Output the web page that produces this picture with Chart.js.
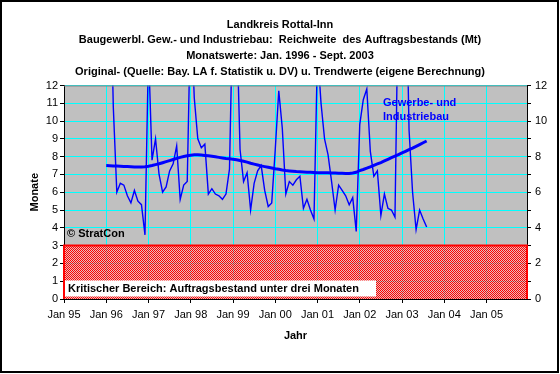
<!DOCTYPE html>
<html><head><meta charset="utf-8">
<script src="https://cdn.jsdelivr.net/npm/chart.js@4.4.1/dist/chart.umd.min.js"></script>
<style>html,body{margin:0;padding:0;background:#fff;}canvas{display:block;}</style>
</head><body>
<canvas id="c" width="560" height="374"></canvas>
<script>
// ---- data ----
const titleLines = [
  'Landkreis Rottal-Inn',
  'Baugewerbl. Gew.- und Industriebau:  Reichweite  des Auftragsbestands (Mt)',
  'Monatswerte: Jan. 1996 - Sept. 2003',
  'Original- (Quelle: Bay. LA f. Statistik u. DV) u. Trendwerte (eigene Berechnung)'
];
const yearLabels = ['Jan 95','Jan 96','Jan 97','Jan 98','Jan 99','Jan 00','Jan 01','Jan 02','Jan 03','Jan 04','Jan 05'];
const axisMonthsMax = 131.5;      // axis runs Jan 1995 .. end of 2005 (months)
const firstDataMonth = 12;        // Jan 1996, counted in months from Jan 1995
const seriesOriginalName = 'Gewerbe- und Industriebau';
const original = [
  16, 20, 10.8, 6.0, 6.5, 6.4, 5.8, 5.4, 6.1, 5.5, 5.3, 3.6,
  14, 7.8, 9.0, 7.0, 6.0, 6.3, 7.2, 7.6, 8.6, 5.6, 6.4, 6.6,
  16.5, 11.3, 9.0, 8.5, 8.7, 5.9, 6.2, 5.9, 5.8, 5.6, 5.9, 7.3,
  17, 16, 8.4, 6.6, 7.1, 5.0, 6.5, 7.2, 7.5, 6.1, 5.2, 5.4,
  8.4, 11.7, 9.6, 5.9, 6.6, 6.4, 6.7, 6.9, 5.1, 5.6, 5.0, 4.5,
  14, 11.0, 9.0, 8.1, 6.6, 5.0, 6.4, 6.1, 5.8, 5.3, 5.7, 3.8,
  9.8, 11.2, 11.8, 8.3, 6.9, 7.2, 4.7, 5.9, 5.1, 5.0, 4.6, 18,
  22, 20, 9.5, 6.0, 3.9, 5.0, 4.5, 4.05
];
const trend = [
  7.50, 7.49, 7.48, 7.47, 7.46, 7.45, 7.44, 7.43, 7.42, 7.42, 7.42, 7.43,
  7.46, 7.50, 7.55, 7.60, 7.66, 7.72, 7.78, 7.84, 7.90, 7.96, 8.01, 8.05,
  8.08, 8.10, 8.10, 8.09, 8.07, 8.05, 8.02, 7.99, 7.96, 7.93, 7.90, 7.88,
  7.86, 7.83, 7.78, 7.74, 7.69, 7.63, 7.58, 7.53, 7.48, 7.44, 7.40, 7.36,
  7.32, 7.29, 7.25, 7.22, 7.20, 7.18, 7.16, 7.15, 7.14, 7.13, 7.12, 7.11,
  7.10, 7.10, 7.09, 7.09, 7.08, 7.08, 7.07, 7.07, 7.06, 7.06, 7.08, 7.12,
  7.22, 7.28, 7.35, 7.43, 7.51, 7.59, 7.67, 7.76, 7.85, 7.94, 8.03, 8.12,
  8.21, 8.30, 8.39, 8.48, 8.58, 8.68, 8.78, 8.88
];
const criticalLevel = 3;
const criticalText = 'Kritischer Bereich: Auftragsbestand unter drei Monaten';
const copyrightText = '\u00A9 StratCon';

// ---- chart ----
Chart.defaults.font.family = "'Liberation Sans', Arial, sans-serif";
Chart.defaults.font.size = 11;
Chart.defaults.color = '#000';

const canvas = document.getElementById('c');
const pc = document.createElement('canvas'); pc.width = 2; pc.height = 2;
const pctx = pc.getContext('2d');
pctx.fillStyle = '#ff0000'; pctx.fillRect(0,0,1,1); pctx.fillRect(1,1,1,1);
pctx.fillStyle = 'rgba(255,190,190,0.6)'; pctx.fillRect(1,0,1,1); pctx.fillRect(0,1,1,1);
const redPattern = canvas.getContext('2d').createPattern(pc, 'repeat');

const toPoints = arr => arr.map((v, i) => ({x: firstDataMonth + i, y: v}));
const criticalPts = [
  {x: 0, y: 0}, {x: 0, y: criticalLevel},
  {x: axisMonthsMax, y: criticalLevel}, {x: axisMonthsMax, y: 0}
];

const decor = {
  id: 'decor',
  beforeDraw(chart) {
    const {ctx, chartArea: a} = chart;
    ctx.save();
    ctx.fillStyle = '#fff'; ctx.fillRect(0, 0, chart.width, chart.height);
    ctx.fillStyle = '#c0c0c0'; ctx.fillRect(a.left, a.top, a.right - a.left, a.bottom - a.top);
    ctx.restore();
  },
  afterDatasetsDraw(chart) {
    const {ctx, chartArea: a} = chart;
    ctx.save();
    ctx.strokeStyle = '#808080'; ctx.lineWidth = 1;
    ctx.beginPath(); ctx.moveTo(a.left, a.top + 0.5); ctx.lineTo(a.right, a.top + 0.5); ctx.stroke();
    ctx.font = "bold 11px 'Liberation Sans', Arial, sans-serif";
    ctx.textBaseline = 'middle'; ctx.textAlign = 'left';
    ctx.fillStyle = '#000';
    ctx.fillText(copyrightText, a.left + 3, a.top + 148);
    ctx.fillStyle = '#fff';
    ctx.fillRect(a.left + 1, a.top + 195, 311, 16);
    ctx.fillStyle = '#000';
    ctx.fillText(criticalText, a.left + 4, a.top + 203);
    ctx.fillStyle = '#0000ff';
    const nm = seriesOriginalName.split(' Industriebau');
    ctx.fillText(nm[0], a.left + 319, a.top + 17);
    ctx.fillText('Industriebau', a.left + 319, a.top + 31);
    ctx.restore();
  },
  afterDraw(chart) {
    const ctx = chart.ctx;
    ctx.save();
    ctx.strokeStyle = '#000'; ctx.lineWidth = 2;
    ctx.strokeRect(1, 1, chart.width - 3, chart.height - 3);
    ctx.restore();
  }
};

new Chart(canvas, {
  type: 'line',
  data: {
    datasets: [
      {label: 'Trend', data: toPoints(trend), borderColor: '#0000ff', borderWidth: 3,
       pointRadius: 0, fill: false, order: 0, clip: 0},
      {label: seriesOriginalName, data: toPoints(original), borderColor: '#0000ff', borderWidth: 1.4,
       pointRadius: 0, fill: false, order: 1, clip: 0},
      {label: 'Kritisch', data: criticalPts, borderColor: '#ff0000', borderWidth: 2,
       backgroundColor: redPattern, pointRadius: 0, fill: 'origin', order: 2, clip: false}
    ]
  },
  options: {
    responsive: false, animation: false, devicePixelRatio: 1,
    layout: {padding: 0},
    plugins: {
      legend: {display: false}, tooltip: {enabled: false},
      title: {display: true, text: titleLines, color: '#000',
        font: {size: 11, weight: 'bold', lineHeight: 1.42}, padding: {top: 17, bottom: 6}}
    },
    scales: {
      x: {
        type: 'linear', min: 0, max: axisMonthsMax,
        afterBuildTicks(s) { s.ticks = yearLabels.map((_, i) => ({value: i * 12})); },
        afterFit(s) { s.height = 75; },
        ticks: {stepSize: 12, autoSkip: false, maxRotation: 0, padding: 5, color: '#000',
          callback: v => yearLabels[Math.round(v / 12)]},
        grid: {color: '#00ffff', tickColor: '#000', tickLength: 4, lineWidth: 1},
        border: {display: true, color: '#000'},
        title: {display: true, text: 'Jahr', color: '#000', font: {size: 11, weight: 'bold'},
          padding: {top: 0, bottom: 31}}
      },
      y: {
        position: 'left', min: 0, max: 12,
        afterFit(s) { s.width = 64; },
        ticks: {stepSize: 1, padding: 2, color: '#000'},
        grid: {color: '#00ffff', tickColor: '#000', tickLength: 4},
        border: {display: true, color: '#000'},
        title: {display: true, text: 'Monate', color: '#000', font: {size: 11, weight: 'bold'},
          padding: {top: 28, bottom: 0}}
      },
      y2: {
        position: 'right', min: 0, max: 12,
        afterFit(s) { s.width = 33; },
        ticks: {stepSize: 1, padding: 4, color: '#000', callback: v => (v % 2 === 0 ? v : '')},
        grid: {drawOnChartArea: false, tickColor: '#000', tickLength: 4},
        border: {display: true, color: '#000'}
      }
    }
  },
  plugins: [decor]
});
</script>
</body></html>
